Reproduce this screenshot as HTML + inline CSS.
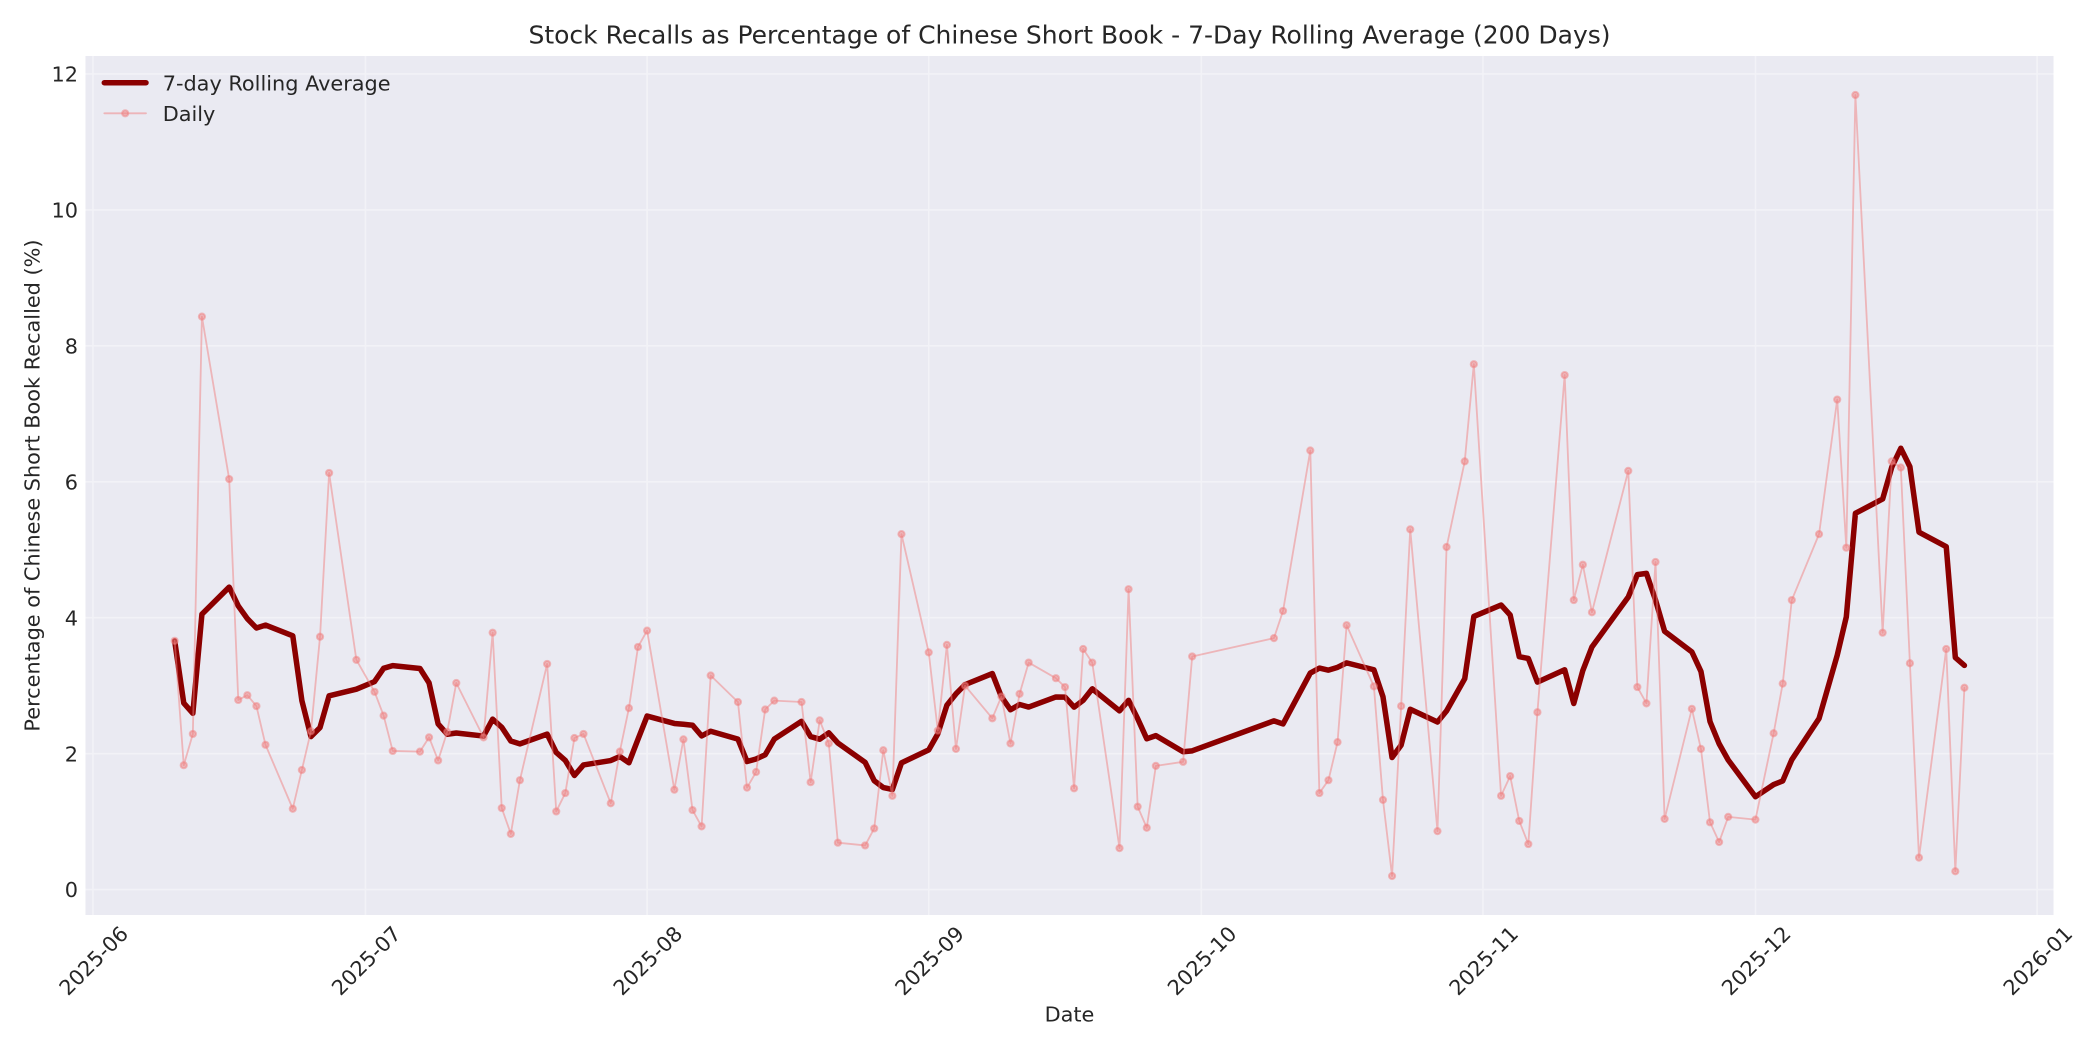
<!DOCTYPE html>
<html>
<head>
<meta charset="utf-8">
<style>
  html, body { margin: 0; padding: 0; background: #ffffff; }
  svg { display: block; }
  text { font-family: "DejaVu Sans", "Liberation Sans", sans-serif; fill: #262626; }
</style>
</head>
<body>
<svg id="chart" xmlns="http://www.w3.org/2000/svg" width="2100" height="1050" viewBox="0 0 2100 1050">
  <rect x="0" y="0" width="2100" height="1050" fill="#ffffff"/>
  <!-- axes background -->
  <rect x="85.5" y="56" width="1968" height="859" fill="#EAEAF2"/>
  <!-- grid -->
  <g stroke="#f2f2f7" stroke-width="1.6" fill="none">
    <line x1="85.5" x2="2053.5" y1="889.6" y2="889.6"/>
    <line x1="85.5" x2="2053.5" y1="753.66" y2="753.66"/>
    <line x1="85.5" x2="2053.5" y1="617.72" y2="617.72"/>
    <line x1="85.5" x2="2053.5" y1="481.78" y2="481.78"/>
    <line x1="85.5" x2="2053.5" y1="345.84" y2="345.84"/>
    <line x1="85.5" x2="2053.5" y1="209.9" y2="209.9"/>
    <line x1="85.5" x2="2053.5" y1="73.96" y2="73.96"/>
    <line y1="56" y2="915" x1="92.9" x2="92.9"/>
    <line y1="56" y2="915" x1="365.45" x2="365.45"/>
    <line y1="56" y2="915" x1="647.09" x2="647.09"/>
    <line y1="56" y2="915" x1="928.72" x2="928.72"/>
    <line y1="56" y2="915" x1="1201.27" x2="1201.27"/>
    <line y1="56" y2="915" x1="1482.9" x2="1482.9"/>
    <line y1="56" y2="915" x1="1755.46" x2="1755.46"/>
    <line y1="56" y2="915" x1="2037.09" x2="2037.09"/>
  </g>

  <!-- series (filled by script) -->
  <path id="rolling" d="" fill="none" stroke="#8B0000" stroke-width="5.5" stroke-linejoin="round" stroke-linecap="round"/>
  <path id="daily" d="" fill="none" stroke="#F08080" stroke-opacity="0.5" stroke-width="1.8" stroke-linejoin="round" stroke-linecap="round"/>
  <g id="markers"></g>

  <!-- title -->
  <text x="1069.5" y="43.5" font-size="25" text-anchor="middle">Stock Recalls as Percentage of Chinese Short Book - 7-Day Rolling Average (200 Days)</text>

  <!-- y tick labels -->
  <g font-size="20.83" text-anchor="end">
    <text x="78" y="897.2">0</text>
    <text x="78" y="761.3">2</text>
    <text x="78" y="625.3">4</text>
    <text x="78" y="489.4">6</text>
    <text x="78" y="353.4">8</text>
    <text x="78" y="217.5">10</text>
    <text x="78" y="81.6">12</text>
  </g>

  <!-- x tick labels -->
  <g font-size="20.83" text-anchor="middle">
    <text x="93.4" y="968.1" transform="rotate(-45 93.4 960.5)">2025-06</text>
    <text x="365.95" y="968.1" transform="rotate(-45 365.95 960.5)">2025-07</text>
    <text x="647.59" y="968.1" transform="rotate(-45 647.59 960.5)">2025-08</text>
    <text x="929.22" y="968.1" transform="rotate(-45 929.22 960.5)">2025-09</text>
    <text x="1201.77" y="968.1" transform="rotate(-45 1201.77 960.5)">2025-10</text>
    <text x="1483.4" y="968.1" transform="rotate(-45 1483.4 960.5)">2025-11</text>
    <text x="1755.96" y="968.1" transform="rotate(-45 1755.96 960.5)">2025-12</text>
    <text x="2037.59" y="968.1" transform="rotate(-45 2037.59 960.5)">2026-01</text>
  </g>

  <!-- axis labels -->
  <text x="1069.5" y="1021.7" font-size="20.83" text-anchor="middle">Date</text>
  <text transform="translate(39.5,485.5) rotate(-90)" font-size="20.83" text-anchor="middle">Percentage of Chinese Short Book Recalled (%)</text>

  <!-- legend -->
  <line x1="104.3" x2="146" y1="82.7" y2="82.7" stroke="#8B0000" stroke-width="5.5" stroke-linecap="round"/>
  <text x="162.7" y="90.5" font-size="20.83">7-day Rolling Average</text>
  <line x1="104.3" x2="146" y1="113.3" y2="113.3" stroke="#F08080" stroke-opacity="0.5" stroke-width="1.8" stroke-linecap="round"/>
  <circle cx="125.2" cy="113.3" r="3.1" fill="#F08080" fill-opacity="0.5" stroke="#F08080" stroke-opacity="0.5" stroke-width="2"/>
  <text x="162.7" y="121.1" font-size="20.83">Daily</text>
</svg>

<script>
(function(){
  var d = [9,10,11,12,15,16,17,18,19,22,23,24,25,26,29,31,32,33,36,37,38,39,40,43,44,45,46,47,50,51,52,53,54,57,58,59,60,61,64,65,66,67,68,71,72,73,74,75,78,79,80,81,82,85,86,87,88,89,92,93,94,95,96,99,100,101,102,103,106,107,108,109,110,113,114,115,116,117,120,121,130,131,134,135,136,137,138,141,142,143,144,145,148,149,151,152,155,156,157,158,159,162,163,164,165,169,170,171,172,173,176,177,178,179,180,183,185,186,187,190,192,193,194,197,198,199,200,201,204,205,206];
  var v = [3.66,1.83,2.29,8.43,6.04,2.79,2.86,2.70,2.13,1.19,1.76,2.33,3.72,6.13,3.38,2.91,2.56,2.04,2.03,2.24,1.90,2.32,3.04,2.24,3.78,1.20,0.82,1.61,3.32,1.15,1.42,2.23,2.29,1.27,2.03,2.67,3.57,3.81,1.47,2.21,1.17,0.93,3.15,2.76,1.50,1.73,2.65,2.78,2.76,1.58,2.49,2.15,0.69,0.65,0.90,2.05,1.38,5.23,3.49,2.34,3.60,2.07,3.00,2.52,2.84,2.15,2.88,3.34,3.11,2.98,1.49,3.54,3.34,0.61,4.42,1.22,0.91,1.82,1.88,3.43,3.70,4.10,6.46,1.42,1.61,2.17,3.89,2.99,1.32,0.20,2.70,5.30,0.86,5.04,6.30,7.73,1.38,1.67,1.01,0.67,2.61,7.57,4.26,4.78,4.08,6.16,2.98,2.74,4.82,1.04,2.66,2.07,0.99,0.70,1.07,1.03,2.30,3.03,4.26,5.23,7.21,5.03,11.69,3.78,6.30,6.21,3.33,0.47,3.54,0.27,2.97];
  function X(day){ return 92.9 + day*9.085; }
  function Y(val){ return 889.6 - val*67.97; }
  var dp = "", rp = "", mk = "";
  for (var i=0;i<d.length;i++){
    var x = X(d[i]).toFixed(2), y = Y(v[i]).toFixed(2);
    dp += (i===0?"M":"L") + x + " " + y + " ";
    var s=0,n=0;
    for (var j=Math.max(0,i-6); j<=i; j++){ s+=v[j]; n++; }
    rp += (i===0?"M":"L") + x + " " + Y(s/n).toFixed(2) + " ";
    mk += '<circle cx="'+x+'" cy="'+y+'" r="3.1" fill="#F08080" fill-opacity="0.5" stroke="#F08080" stroke-opacity="0.5" stroke-width="2"/>';
  }
  document.getElementById("daily").setAttribute("d", dp);
  document.getElementById("rolling").setAttribute("d", rp);
  document.getElementById("markers").innerHTML = mk;
})();
</script>
</body>
</html>
